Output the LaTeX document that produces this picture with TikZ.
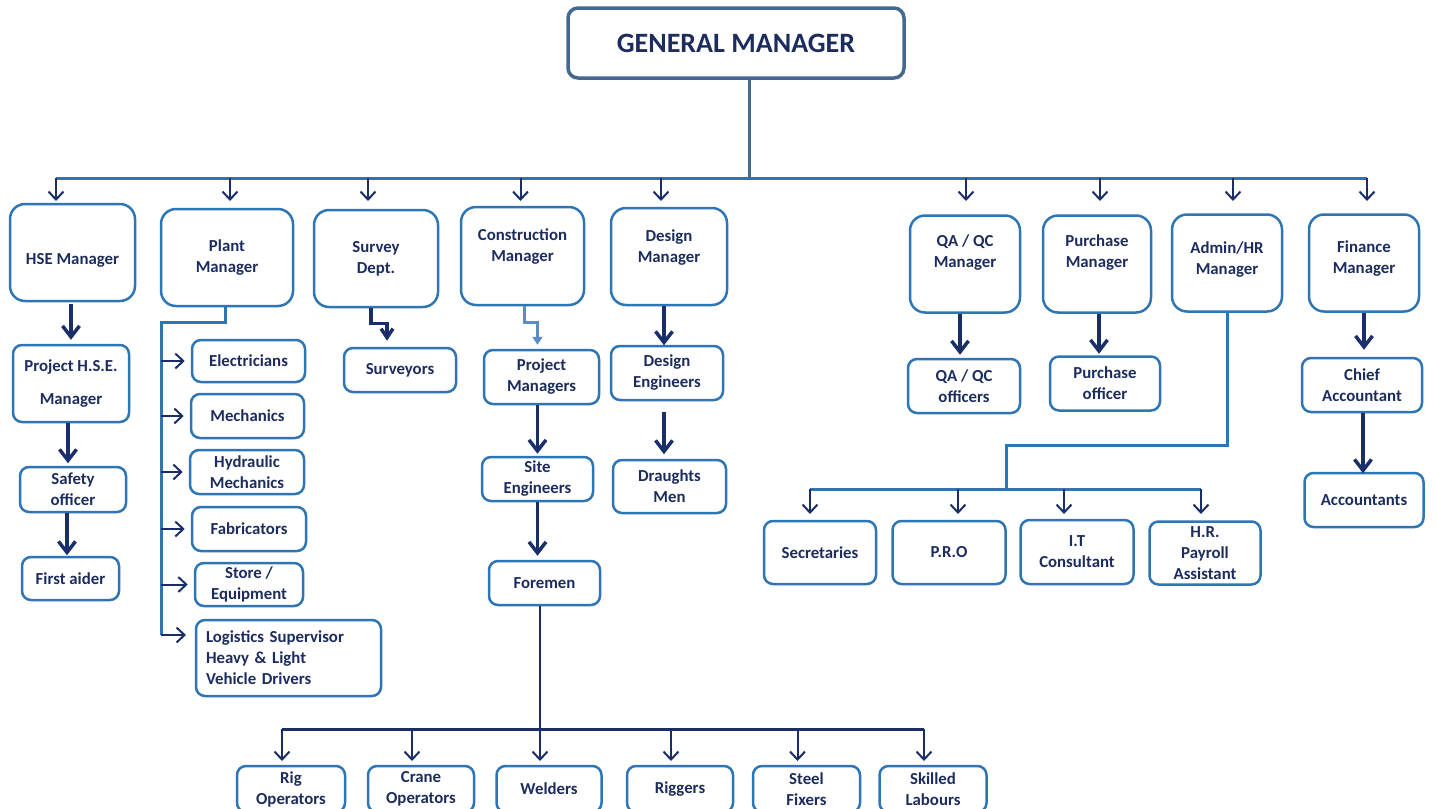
\documentclass[tikz,border=0pt]{standalone}
\usepackage{fontspec}
\setmainfont{Carlito}
\usetikzlibrary{arrows.meta}
\definecolor{boxblue}{HTML}{2E75B6}
\definecolor{gmblue}{HTML}{44688F}
\definecolor{navy}{HTML}{1C2C5E}
\definecolor{arrnavy}{HTML}{1A2E6A}
\definecolor{lightarr}{HTML}{5B8BC9}
\tikzset{
  box/.style={draw=boxblue, line width=2.5pt, rounded corners=9pt, text=navy, align=center, inner sep=0pt, font=\fontsize{16.8}{21}\selectfont\bfseries},
  head/.style={box, rounded corners=15pt},
  sz/.style 2 args={minimum width=#1, minimum height=#2},
  up/.style={text depth=#1},
  bus/.style={draw=boxblue, line width=3pt},
  arr/.style={draw=arrnavy, line width=2pt, -{Straight Barb[length=8pt,width=15pt]}},
  bigarr/.style={draw=arrnavy, line width=3.5pt, -{Straight Barb[length=11pt,width=17pt]}},
}
\begin{document}
\begin{tikzpicture}[x=1pt, y=-1pt]
\useasboundingbox (0,0) rectangle (1436,809);
\node[draw=gmblue, line width=3.5pt, rounded corners=10pt, text=navy, sz={336}{70}, font=\fontsize{28}{30}\selectfont\bfseries] (gm) at (736,43) {GENERAL MANAGER};

\node[head, sz={125}{97}, text height=26pt] (hse) at (72.5,252.5) {HSE Manager};
\node[head, sz={132}{97}] (plant) at (227,257.5) {Plant\\Manager};
\node[head, sz={124}{97}] (survey) at (376,258.5) {Survey\\Dept.};
\node[head, sz={123}{98}, up=22pt] (constr) at (522.5,256) {Construction\\Manager};
\node[head, sz={116}{97}, up=21pt] (design) at (669,256.5) {Design\\Manager};
\node[head, sz={110}{97}, up=25pt] (qa) at (965,264) {QA / QC\\Manager};
\node[head, sz={108}{97}, up=26pt] (purch) at (1097,264) {Purchase\\Manager};
\node[head, sz={110}{97}, up=10pt] (admin) at (1227,263) {Admin/HR\\Manager};
\node[head, sz={110}{97}, up=12pt] (fin) at (1364,263) {Finance\\Manager};

\node[box, sz={116}{77}] (phse) at (71,383.5) {Project H.S.E.\\[12pt]Manager};
\node[box, sz={106}{45}] (safety) at (73,489.5) {Safety\\officer};
\node[box, sz={97}{43}] (aider) at (70.5,578.5) {First aider};

\node[box, sz={113}{42}] (elec) at (248.5,361) {Electricians};
\node[box, sz={113}{44}] (mech) at (247.5,416) {Mechanics};
\node[box, sz={114}{44}] (hyd) at (247,472) {Hydraulic\\Mechanics};
\node[box, sz={114}{44}] (fab) at (249,529) {Fabricators};
\node[box, sz={108}{43}] (store) at (249,584.5) {Store /\\Equipment};
\node[box, sz={185}{76}, text width=165pt, align=left] (logi) at (288.5,658) {Logistics Supervisor\\Heavy \& Light\\Vehicle Drivers};

\node[box, sz={112}{44}] (surv) at (400,370) {Surveyors};

\node[box, sz={115}{54}] (pm) at (541.5,377) {Project\\Managers};
\node[box, sz={111}{44}] (site) at (537.5,479) {Site\\Engineers};
\node[box, sz={111}{44}] (foremen) at (544.5,583) {Foremen};

\node[box, sz={112}{54}] (deng) at (667,373) {Design\\Engineers};
\node[box, sz={113}{53}] (draught) at (669.5,486.5) {Draughts\\Men};

\node[box, sz={112}{54}] (qao) at (964,386) {QA / QC\\officers};
\node[box, sz={110}{54}] (purcho) at (1105,383.5) {Purchase\\officer};
\node[box, sz={120}{54}] (chief) at (1362,385) {Chief\\Accountant};
\node[box, sz={119}{54}] (acc) at (1364,500) {Accountants};

\node[box, sz={112}{63}] (sec) at (820,552.5) {Secretaries};
\node[box, sz={113}{63}] (pro) at (949,552.5) {P.R.O};
\node[box, sz={113}{64}] (it) at (1077,552) {I.T\\Consultant};
\node[box, sz={111}{63}] (hr) at (1205,553) {H.R.\\Payroll\\Assistant};

\node[box, sz={108}{46}] (rig) at (291,789) {Rig\\Operators};
\node[box, sz={106}{46}] (crane) at (421,789) {Crane\\Operators};
\node[box, sz={105}{46}] (weld) at (549,789) {Welders};
\node[box, sz={106}{46}] (rigg) at (680,789) {Riggers};
\node[box, sz={107}{46}] (steel) at (806.5,789) {Steel\\Fixers};
\node[box, sz={107}{46}] (skill) at (933,789) {Skilled\\Labours};

\coordinate (bus) at (749,178);
\coordinate (busl) at (56,178);
\coordinate (busr) at (1367,178);
\draw[gmblue, line width=3pt] (gm.south -| bus) -- (bus);
\draw[bus] (busl) -- (busr);
\draw[arr] (busl) -- ++(0,23);
\draw[arr] (busr) -- ++(0,23);
\foreach \n/\d in {plant/3,survey/-8,constr/-2,design/-8,qa/1,purch/3,admin/6}
  \draw[arr] (bus -| \n.north) ++(\d,0) -- ++(0,23);

\draw[bigarr, shorten <=2pt, shorten >=4pt] (phse.north |- hse.south) -- (phse.north);
\draw[bigarr, shorten >=4pt] (safety.north |- phse.south) ++(-5,0) -- ++(0,44);
\draw[bigarr, shorten >=3pt] (safety.south) ++(-6,0) -- ++(0,45);

\coordinate (pspine) at (161,322);
\draw[bus] (plant.south) ++(-2,0) |- (pspine) -- ++(0,313);
\foreach \n in {elec,mech,hyd,fab,store}
  \draw[arr, shorten >=6pt] (pspine |- \n.west) -- (\n.west);
\draw[arr, shorten >=10pt] (pspine |- logi.west) ++(0,-23) -- ++(35,0);

\draw[arrnavy, line width=3.5pt, -{Straight Barb[length=9pt,width=12pt]}, shorten >=6pt] (survey.south) ++(-5,0) -- ++(0,15) -| ([xshift=-13pt]surv.north);

\draw[lightarr, line width=2.5pt, -{Triangle[length=8pt,width=10pt]}, shorten >=4pt] (constr.south) ++(2,0) -- ++(0,16) -| ([xshift=-4pt]pm.north);
\draw[bigarr, shorten >=2pt] (site.north |- pm.south) -- (site.north);
\draw[bigarr, shorten >=4pt] (site.south) -- (site.south |- foremen.north);

\coordinate (fbar) at (540,729);
\path (rig.north |- fbar) ++(-9,0) coordinate (fbarl);
\path (skill.north |- fbar) ++(-9,0) coordinate (fbarr);
\draw[arrnavy, line width=2.5pt] (fbar |- foremen.south) -- (fbar);
\draw[arrnavy, line width=3pt] (fbarl) -- (fbarr);
\foreach \n in {rig,crane,weld,rigg,steel,skill}
  \draw[arr] (\n.north |- fbar) ++(-9,0) -- ++(0,32);

\draw[bigarr, shorten >=3pt] (deng.north |- design.south) ++(-3,0) -- ++(0,42);
\draw[bigarr, shorten <=11pt, shorten >=7pt] (deng.south) ++(-3,0) -- ++(0,60);

\draw[bigarr, shorten >=4pt] (qa.south) ++(-5,0) -- ++(0,45);
\draw[bigarr, shorten >=3pt] (purch.south) ++(2,0) -- ++(0,43);
\draw[bigarr, shorten >=7pt] (fin.south) -- (fin.south |- chief.north);
\draw[bigarr, shorten >=2pt] (chief.south) ++(1,0) -- ++(0,62);

\coordinate (abar) at (1006,489);
\path (sec.north |- abar) ++(-10,0) coordinate (abarl);
\path (hr.north |- abar) ++(-4,0) coordinate (abarr);
\draw[bus] (admin.south) -- ++(0,133) -| (abar);
\draw[bus] (abarl) -- (abarr);
\foreach \n/\d in {sec/-10,pro/9,it/-13,hr/-4}
  \draw[arr] (\n.north |- abar) ++(\d,0) -- ++(0,25);
\end{tikzpicture}
\end{document}
